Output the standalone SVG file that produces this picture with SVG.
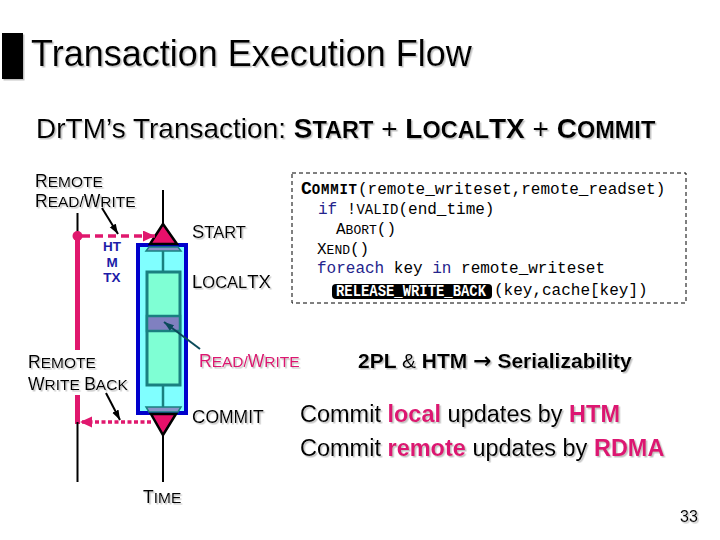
<svg xmlns="http://www.w3.org/2000/svg" width="720" height="540" viewBox="0 0 720 540">
<style>
  .sans { font-family: "Liberation Sans", Arial, sans-serif; fill: #000; }
  .mono { font-family: "Liberation Mono", "Courier New", monospace; font-size: 16px; fill: #000; }
  .kw { fill: #24248c; }
  .mag { fill: #dc1872; }
  .blu { fill: #1c1ca8; }
  .ln { stroke: #000; stroke-width: 2; fill: none; }
  .magline { stroke: #e0186e; stroke-width: 5; fill: none; }
  .teal { stroke: #1a8080; stroke-width: 2.5; fill: none; }
  .tri { fill: #e8106a; stroke: #000; stroke-width: 2.5; stroke-linejoin: miter; }
  .bar { fill: #8a92c8; stroke: #1a8080; stroke-width: 1.5; }
</style>
<defs>
  <filter id="sh" x="-5%" y="-20%" width="110%" height="150%">
    <feDropShadow dx="1.5" dy="1.5" stdDeviation="0.5" flood-color="#9a9a9a" flood-opacity="0.6"/>
  </filter>
  <marker id="ahBlack" markerUnits="userSpaceOnUse" markerWidth="11" markerHeight="8" refX="10" refY="3.5" orient="auto">
    <path d="M0,0 L10,3.5 L0,7 z" fill="#000"/>
  </marker>
  <marker id="ahTeal" markerUnits="userSpaceOnUse" markerWidth="11" markerHeight="8" refX="10" refY="3.5" orient="auto">
    <path d="M0,0 L10,3.5 L0,7 z" fill="#0a4a5a"/>
  </marker>
  <marker id="ahMag" markerUnits="userSpaceOnUse" markerWidth="13" markerHeight="12" refX="12" refY="5.5" orient="auto">
    <path d="M0,0 L12,5.5 L0,11 z" fill="#e0186e"/>
  </marker>
</defs>
<rect width="720" height="540" fill="#fff"/>

<g id="title" filter="url(#sh)">
  <rect x="2" y="33" width="21" height="46" fill="#000"/>
  <text class="sans" x="31" y="66" font-size="36">Transaction Execution Flow</text>
</g>

<g id="subtitle" filter="url(#sh)">
  <text class="sans" x="36" y="138" font-size="28">DrTM’s Transaction: <tspan font-weight="bold">S<tspan font-size="23.5">TART</tspan></tspan> + <tspan font-weight="bold">L<tspan font-size="23.5">OCAL</tspan>TX</tspan> + <tspan font-weight="bold">C<tspan font-size="23.5">OMMIT</tspan></tspan></text>
</g>

<g id="code-box">
  <rect x="292" y="173" width="394" height="130" fill="none" stroke="#000" stroke-width="1" stroke-dasharray="4 3"/>
  <text class="mono" x="301" y="194"><tspan font-weight="bold" font-size="18">C</tspan><tspan font-weight="bold" font-size="14" letter-spacing="0.8">OMMIT</tspan><tspan x="358">(remote_writeset,remote_readset)</tspan></text>
  <text class="mono" x="318" y="214"><tspan class="kw">if</tspan> !<tspan font-size="14">VALID</tspan>(end_time)</text>
  <text class="mono" x="336" y="234">A<tspan font-size="13">BORT</tspan>()</text>
  <text class="mono" x="317" y="254">X<tspan font-size="13">END</tspan>()</text>
  <text class="mono" x="317" y="273"><tspan class="kw">foreach</tspan> key <tspan class="kw">in</tspan> remote_writeset</text>
  <rect x="332" y="284" width="160" height="15" rx="4" fill="#000"/>
  <text class="mono" x="336" y="296" font-size="14" font-weight="bold" style="fill:#fff" textLength="150" lengthAdjust="spacingAndGlyphs">RELEASE_WRITE_BACK</text>
  <text class="mono" x="494" y="295">(key,cache[key])</text>
</g>

<g id="htm-tx">
  <line class="ln" x1="163" y1="190" x2="163" y2="224"/>
  <rect x="138" y="245" width="48" height="168" fill="#80ffff" stroke="#0000cc" stroke-width="4"/>
  <polygon class="bar" points="149,247 178,247 181,251 146,251"/>
  <line class="teal" x1="163" y1="251" x2="163" y2="272"/>
  <rect x="147" y="272" width="33" height="113" fill="#7fffd4" stroke="#1a8080" stroke-width="3"/>
  <rect x="147" y="316" width="33" height="15" fill="#8080c0" stroke="#1a8080" stroke-width="2.5"/>
  <line class="teal" x1="163" y1="385" x2="163" y2="407"/>
  <polygon class="bar" points="146,407 181,407 178,412 149,412"/>
  <polygon class="tri" points="163,224 150,244 177,244"/>
  <polygon class="tri" points="151,414 176,414 163,435"/>
  <line class="ln" x1="163" y1="435" x2="163" y2="482"/>
  <text class="sans blu" font-size="13.5" font-weight="bold" text-anchor="middle"><tspan x="112" y="251">HT</tspan><tspan x="112" y="266.5">M</tspan><tspan x="112" y="282">TX</tspan></text>
</g>

<g id="remote-line">
  <line class="ln" x1="77.5" y1="213" x2="77.5" y2="236"/>
  <line class="magline" x1="77.5" y1="236" x2="77.5" y2="350"/>
  <line class="magline" x1="77.5" y1="395" x2="77.5" y2="424"/>
  <circle cx="77.5" cy="236" r="5" fill="#e0186e"/>
  <line class="ln" x1="77.5" y1="422" x2="77.5" y2="482"/>
</g>

<g id="labels" filter="url(#sh)">
  <text class="sans" x="35" y="187" font-size="17.5">R<tspan font-size="15.5">EMOTE</tspan></text>
  <text class="sans" x="35" y="207" font-size="17.5">R<tspan font-size="15.5">EAD/</tspan>W<tspan font-size="15.5">RITE</tspan></text>
  <text class="sans" x="192" y="238" font-size="18.5">S<tspan font-size="16.5">TART</tspan></text>
  <text class="sans" x="192" y="288" font-size="18.5">L<tspan font-size="16.5">OCAL</tspan>TX</text>
  <text class="sans mag" x="199" y="367" font-size="17.5">R<tspan font-size="15.5">EAD/</tspan>W<tspan font-size="15.5">RITE</tspan></text>
  <text class="sans" x="28" y="368" font-size="17.5">R<tspan font-size="15.5">EMOTE</tspan></text>
  <text class="sans" x="28" y="390" font-size="17.5">W<tspan font-size="15.5">RITE </tspan>B<tspan font-size="15.5">ACK</tspan></text>
  <text class="sans" x="192" y="423" font-size="18.5">C<tspan font-size="17.5">OMMIT</tspan></text>
  <text class="sans" x="143" y="503" font-size="17.5">T<tspan font-size="15.5">IME</tspan></text>
</g>

<g id="notes" filter="url(#sh)">
  <text class="sans" x="358" y="368" font-size="21" font-weight="bold">2PL <tspan font-weight="normal">&amp;</tspan> HTM <tspan font-family="'DejaVu Sans', sans-serif" font-size="22">→</tspan> Serializability</text>
  <text class="sans" x="300" y="422" font-size="23.5">Commit <tspan class="mag" font-weight="bold">local</tspan> updates by <tspan class="mag" font-weight="bold">HTM</tspan></text>
  <text class="sans" x="300" y="456" font-size="23.5">Commit <tspan class="mag" font-weight="bold">remote</tspan> updates by <tspan class="mag" font-weight="bold">RDMA</tspan></text>
  <text class="sans" x="680" y="522" font-size="16">33</text>
</g>

<g id="connectors">
  <line x1="82" y1="236" x2="155" y2="236" stroke="#e0186e" stroke-width="3.5" stroke-dasharray="8 5" marker-end="url(#ahMag)"/>
  <line x1="151" y1="422" x2="80" y2="422" stroke="#e0186e" stroke-width="3.5" stroke-dasharray="4 2.5" marker-end="url(#ahMag)"/>
  <line x1="102" y1="208" x2="118" y2="234" stroke="#000" stroke-width="2" marker-end="url(#ahBlack)"/>
  <line x1="106" y1="393" x2="120" y2="420" stroke="#000" stroke-width="2" marker-end="url(#ahBlack)"/>
  <line x1="200" y1="349" x2="164" y2="322" stroke="#0a4a5a" stroke-width="2" marker-end="url(#ahTeal)"/>
</g>
</svg>
